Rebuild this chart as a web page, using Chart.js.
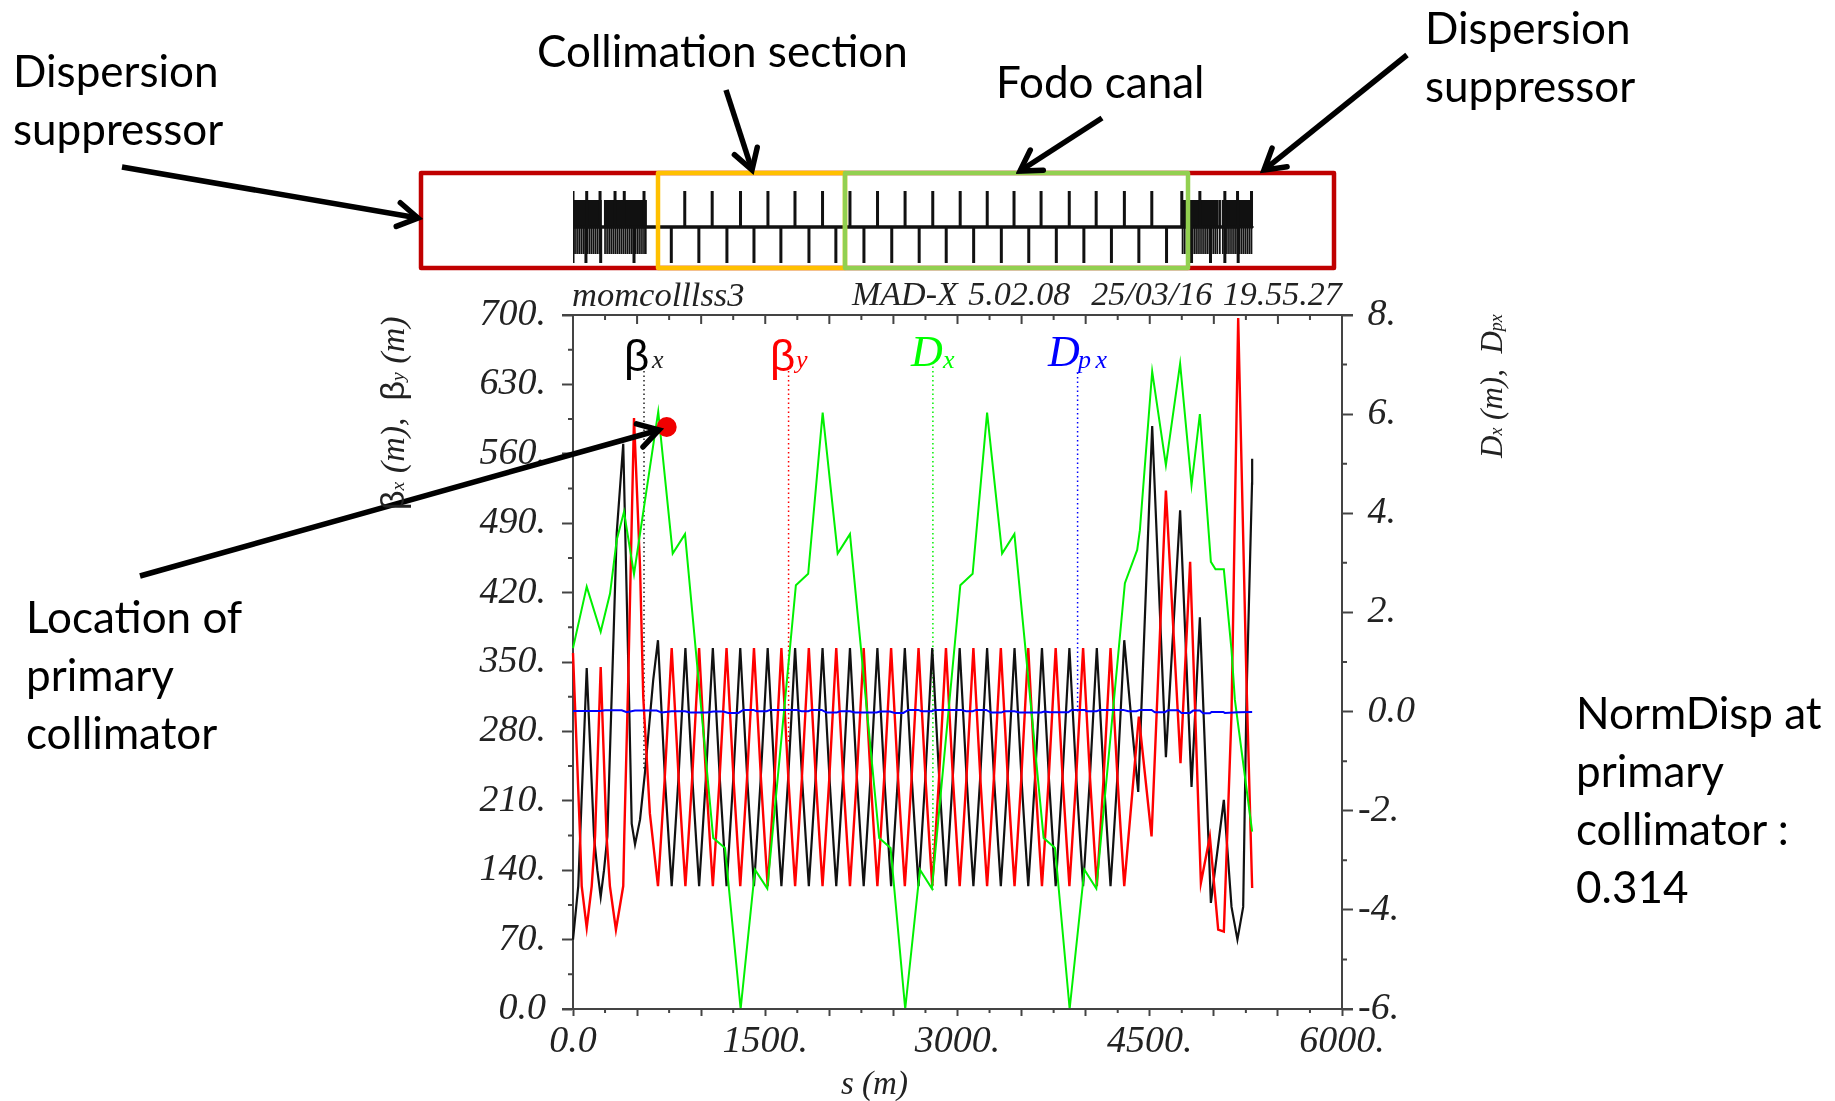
<!DOCTYPE html>
<html>
<head>
<meta charset="utf-8">
<title>momcolllss3 optics</title>
<script src="https://cdn.jsdelivr.net/npm/chart.js@4/dist/chart.umd.min.js"></script>
<style>
  html, body { margin: 0; padding: 0; background: #fff; }
  #page { position: relative; width: 1835px; height: 1101px; overflow: hidden; }
  canvas, svg { position: absolute; left: 0; top: 0; }
  .note { position: absolute; font-family: Lato, sans-serif; font-size: 44px; line-height: 58px; color: #000; white-space: nowrap; }
  .mad { position: absolute; font-family: "Liberation Serif", serif; font-style: italic; color: #222; white-space: nowrap; line-height: 1; }
  .greek { font-family: "Liberation Sans", sans-serif; font-style: normal; }
  .small { font-size: 58%; }
  .rot { transform: rotate(-90deg); transform-origin: left top; }
</style>
</head>
<body>
<div id="page">
  <canvas id="lattice" width="1835" height="1101"></canvas>
  <canvas id="optics" width="1835" height="1101"></canvas>

  <!-- section boxes and arrows of the slide -->
  <svg width="1835" height="1101">
    <defs>
      <marker id="head" markerUnits="userSpaceOnUse" markerWidth="30" markerHeight="34" refX="25" refY="17" orient="auto">
        <path d="M5 5 L25 17 L5 29" fill="none" stroke="#000" stroke-width="5.5" stroke-linecap="round"/>
      </marker>
    </defs>
    <rect x="421" y="173" width="913" height="95" fill="none" stroke="#c00000" stroke-width="4.5" stroke-linejoin="round"/>
    <rect x="658" y="173" width="187" height="95" fill="none" stroke="#ffc000" stroke-width="4.5" stroke-linejoin="round"/>
    <rect x="845" y="173" width="343" height="95" fill="none" stroke="#92d050" stroke-width="4.5" stroke-linejoin="round"/>
    <g stroke="#000" stroke-width="5.5" fill="none">
      <line x1="122" y1="167" x2="418" y2="218" marker-end="url(#head)"/>
      <line x1="726" y1="90" x2="752" y2="170" marker-end="url(#head)"/>
      <line x1="1102" y1="118" x2="1020" y2="171" marker-end="url(#head)"/>
      <line x1="1407" y1="55" x2="1264" y2="170" marker-end="url(#head)"/>
      <line x1="140" y1="576" x2="659" y2="430" marker-end="url(#head)"/>
    </g>
  </svg>

  <div class="note" style="left:13px;top:41px">Dispersion<br>suppressor</div>
  <div class="note" style="left:537px;top:21px">Collimation section</div>
  <div class="note" style="left:996px;top:52px">Fodo canal</div>
  <div class="note" style="left:1425px;top:-2px">Dispersion<br>suppressor</div>
  <div class="note" style="left:26px;top:587px">Location of<br>primary<br>collimator</div>
  <div class="note" style="left:1576px;top:683px">NormDisp at<br>primary<br>collimator :<br>0.314</div>

  <div class="mad" style="left:572px;top:277px;font-size:34.5px">momcolllss3</div>
  <div class="mad" style="left:852px;top:277px;font-size:34px;word-spacing:2px">MAD-X 5.02.08&nbsp; 25/03/16 19.55.27</div>

  <div class="mad" style="left:624px;top:334px;font-size:44px;color:#000"><span class="greek">β</span></div>
  <div class="mad" style="left:652px;top:347px;font-size:26px;color:#222">x</div>
  <div class="mad" style="left:770px;top:334px;font-size:44px;color:#f00"><span class="greek">β</span></div>
  <div class="mad" style="left:796px;top:347px;font-size:26px;color:#f00">y</div>
  <div class="mad" style="left:911px;top:330px;font-size:44px;color:#0f0">D</div>
  <div class="mad" style="left:943px;top:347px;font-size:26px;color:#0f0">x</div>
  <div class="mad" style="left:1048px;top:330px;font-size:44px;color:#00f">D</div>
  <div class="mad" style="left:1078px;top:347px;font-size:26px;color:#00f;word-spacing:-2px">p x</div>

  <div class="mad rot" style="left:375px;top:510px;font-size:34px"><span class="greek">β</span><span class="small">x</span> (m), &nbsp;<span class="greek">β</span><span class="small">y</span> (m)</div>
  <div class="mad rot" style="left:1476px;top:458px;font-size:31px">D<span class="small">x</span> (m), &nbsp;D<span class="small">px</span></div>
  <div class="mad" style="left:841px;top:1067px;font-size:33px">s (m)</div>
</div>

<script>
// Axis tick labels and minor tick positions
const sTicks = [0, 500, 1000, 1500, 2000, 2500, 3000, 3500, 4000, 4500, 5000, 5500, 6000];
const sLabels = { 0: "0.0", 1500: "1500.", 3000: "3000.", 4500: "4500.", 6000: "6000." };
const sMinor = [250, 750, 1250, 1750, 2250, 2750, 3250, 3750, 4250, 4750, 5250, 5750];
const betaLabels = { 0: "0.0", 70: "70.", 140: "140.", 210: "210.", 280: "280.", 350: "350.", 420: "420.", 490: "490.", 560: "560.", 630: "630.", 700: "700." };
const betaMinor = [35, 105, 175, 245, 315, 385, 455, 525, 595, 665];
const dispLabels = { "-6": "-6.", "-4": "-4.", "-2": "-2.", 0: "\u00a00.0", 2: "\u00a02.", 4: "\u00a04.", 6: "\u00a06.", 8: "\u00a08." };
const dispMinor = [-5, -3, -1, 1, 3, 5, 7];

// Beta x
const betaXS = [0, 41, 107, 164, 190, 216, 242, 268, 341, 392, 437, 458, 484, 523, 561, 626,
  663, 718, 750, 770, 790, 822,
  877, 932, 964, 984, 1004, 1036,
  1091, 1146, 1178, 1198, 1218, 1250,
  1305, 1360, 1392, 1412, 1432, 1464,
  1519, 1574, 1606, 1626, 1646, 1678,
  1733, 1788, 1820, 1840, 1860, 1892,
  1947, 2002, 2034, 2054, 2074, 2106,
  2161, 2216, 2248, 2268, 2288, 2320,
  2375, 2430, 2462, 2482, 2502, 2534,
  2589, 2644, 2676, 2696, 2716, 2748,
  2803, 2858, 2890, 2910, 2930, 2962,
  3017, 3072, 3104, 3124, 3144, 3176,
  3231, 3286, 3318, 3338, 3358, 3390,
  3445, 3500, 3532, 3552, 3572, 3604,
  3659, 3714, 3746, 3766, 3786, 3818,
  3873, 3928, 3960, 3980, 4000, 4032,
  4087, 4142, 4174, 4194, 4214, 4246,
  4301, 4361, 4410, 4519, 4626, 4737, 4826, 4891, 4977, 5078, 5138, 5184, 5229, 5255, 5298, 5299];
const betaXV = [70, 124, 344, 174, 140, 113, 140, 174, 480, 570, 315, 187, 166, 191, 238, 332,
  372, 231, 164, 124, 164, 231,
  364, 231, 164, 124, 164, 231,
  364, 231, 164, 124, 164, 231,
  364, 231, 164, 124, 164, 231,
  364, 231, 164, 124, 164, 231,
  364, 231, 164, 124, 164, 231,
  364, 231, 164, 124, 164, 231,
  364, 231, 164, 124, 164, 231,
  364, 231, 164, 124, 164, 231,
  364, 231, 164, 124, 164, 231,
  364, 231, 164, 124, 164, 231,
  364, 231, 164, 124, 164, 231,
  364, 231, 164, 124, 164, 231,
  364, 231, 164, 124, 164, 231,
  364, 231, 164, 124, 164, 231,
  364, 231, 164, 124, 164, 231,
  364, 231, 164, 124, 164, 231,
  372, 285, 219, 588, 254, 503, 224, 395, 107, 211, 103, 70, 103, 315, 530, 555];

// Beta y, the red curve
const betaYS = [0, 55, 68, 107, 146, 172, 216, 262, 288, 335, 392, 400, 431, 476, 523, 548, 600,
  663, 683, 715,
  770, 825, 857, 877, 897, 929,
  984, 1039, 1071, 1091, 1111, 1143,
  1198, 1253, 1285, 1305, 1325, 1357,
  1412, 1467, 1499, 1519, 1539, 1571,
  1626, 1681, 1713, 1733, 1753, 1785,
  1840, 1895, 1927, 1947, 1967, 1999,
  2054, 2109, 2141, 2161, 2181, 2213,
  2268, 2323, 2355, 2375, 2395, 2427,
  2482, 2537, 2569, 2589, 2609, 2641,
  2696, 2751, 2783, 2803, 2823, 2855,
  2910, 2965, 2997, 3017, 3037, 3069,
  3124, 3179, 3211, 3231, 3251, 3283,
  3338, 3393, 3425, 3445, 3465, 3497,
  3552, 3607, 3639, 3659, 3679, 3711,
  3766, 3821, 3853, 3873, 3893, 3925,
  3980, 4035, 4067, 4087, 4107, 4139,
  4194, 4249, 4281,
  4301, 4415, 4514, 4626, 4740, 4815, 4899, 4969, 5034, 5078, 5138, 5190, 5255, 5299];
const betaYV = [359, 174, 124, 82, 124, 174, 345, 174, 124, 80, 124, 174, 332, 596, 446, 315, 197,
  124, 164, 231,
  364, 231, 164, 124, 164, 231,
  364, 231, 164, 124, 164, 231,
  364, 231, 164, 124, 164, 231,
  364, 231, 164, 124, 164, 231,
  364, 231, 164, 124, 164, 231,
  364, 231, 164, 124, 164, 231,
  364, 231, 164, 124, 164, 231,
  364, 231, 164, 124, 164, 231,
  364, 231, 164, 124, 164, 231,
  364, 231, 164, 124, 164, 231,
  364, 231, 164, 124, 164, 231,
  364, 231, 164, 124, 164, 231,
  364, 231, 164, 124, 164, 231,
  364, 231, 164, 124, 164, 231,
  364, 231, 164, 124, 164, 231,
  364, 231, 164, 124, 164, 231,
  364, 231, 164,
  124, 295, 174, 523, 248, 451, 127, 174, 80, 78, 298, 697, 329, 122];

// Horizontal dispersion Dx, green, right axis
const dispS = [0, 107, 216, 289, 341, 398, 476, 665, 778, 874, 1094, 1186, 1308, 1420, 1516,
  1739, 1835, 1948, 2065, 2161, 2389, 2478, 2592, 2707, 2800,
  3022, 3118, 3231, 3348, 3444, 3672, 3761, 3875, 3990, 4083,
  4306, 4402, 4423, 4519, 4626, 4737, 4826, 4891, 4977, 5013, 5078, 5138, 5164, 5299];
const dispV = [1.28, 2.52, 1.61, 2.38, 3.46, 4.03, 2.77, 6.05, 3.19, 3.58, -2.55, -2.75, -6, -3.19, -3.57,
  2.55, 2.78, 6.03, 3.19, 3.58, -2.55, -2.75, -6, -3.19, -3.57,
  2.55, 2.78, 6.03, 3.19, 3.58, -2.55, -2.75, -6, -3.19, -3.57,
  2.59, 3.26, 3.66, 6.86, 4.97, 7.02, 4.57, 6.0, 3.02, 2.87, 2.87, 1.24, 0.24, -2.42];

// Dpx, blue, stays close to zero
const dispPS = [0, 159, 211, 250, 380, 419, 484, 653, 692, 770, 874, 913, 1043, 1095, 1173, 1212, 1290, 1329, 1407, 1433, 1511, 1537,
  1745, 1784, 1836, 1862, 1940, 1979, 2057, 2083, 2161, 2200, 2369, 2395, 2473, 2512, 2577, 2616, 2694, 2720, 2798, 2824,
  3028, 3067, 3119, 3145, 3223, 3262, 3340, 3366, 3444, 3483, 3652, 3678, 3721, 3864, 3890, 3994, 4007, 4085, 4111,
  4293, 4332, 4397, 4423, 4514, 4540, 4618, 4644, 4722, 4748, 4813, 4839, 4891, 4917, 4969, 4982, 5073, 5086, 5190, 5299];
const dispPV = [0.013, 0.013, 0.013, 0.027, 0.027, -0.013, 0.02, 0.02, -0.02, 0.007, 0.007, -0.02, -0.02, 0, 0, -0.027, -0.027, 0.034, 0.034, 0.007, 0.007, 0.034,
  0.034, 0.007, 0.007, 0.034, 0.034, -0.02, -0.02, 0.007, 0.007, -0.02, -0.02, 0, 0, -0.027, -0.027, 0.034, 0.034, 0.007, 0.007, 0.034,
  0.034, 0.007, 0.007, 0.034, 0.034, -0.02, -0.02, 0.007, 0.007, -0.02, -0.02, 0, -0.013, -0.013, 0.034, 0.034, 0.007, 0.007, 0.034,
  0.034, 0.007, 0.007, 0.034, 0.034, -0.013, -0.013, 0.027, 0.027, -0.027, -0.027, 0.02, 0.02, -0.034, -0.034, -0.007, -0.007, -0.027, -0.013, -0.007];

// Dotted leader lines under the curve labels (left axis values)
const leaderXS = [554, 554];
const leaderXV = [648, 241];
const leaderYS = [1682, 1682];
const leaderYV = [648, 268];
const leaderDS = [2808, 2808];
const leaderDV = [648, 120];
const leaderPS = [3937, 3937];
const leaderPV = [642, 300];

// Primary collimator marker
const collimatorS = [731];
const collimatorV = [587];

// Machine layout strip: element positions, same s scale as the plot
const focusS = [0, 107, 211, 328, 400, 554, 872, 1086, 1307, 1521, 1732, 1947, 2161, 2376, 2591, 2807, 3021, 3232, 3441, 3652, 3872, 4082, 4302, 4516, 4750, 4891, 5086, 5185, 5294];
const defocusS = [0, 101, 216, 476, 767, 982, 1201, 1412, 1622, 1841, 2051, 2270, 2487, 2701, 2912, 3126, 3342, 3556, 3771, 3986, 4201, 4415, 4631, 4826, 4974, 5086, 5190];
const bendS = [0, 16, 32, 48, 64, 80, 96, 112, 128, 144, 160, 176, 192, 208, 216,
  250, 266, 282, 298, 314, 330, 346, 362, 378, 394, 410, 426, 442, 458, 474, 490, 506, 522, 538, 554, 568,
  4756, 4772, 4788, 4804, 4820, 4836, 4852, 4868, 4884, 4900, 4916, 4932, 4948, 4964, 4980, 4996, 5012, 5028, 5047,
  5070, 5086, 5102, 5118, 5134, 5150, 5166, 5182, 5198, 5214, 5230, 5246, 5262, 5278, 5294];
const beamLineS = [0, 5313];
const tallHeight = 36;
const bendHeight = 27;

const axisColor = "#444";
const tickFont = { family: "'Liberation Serif', serif", style: "italic", size: 38 };

function points(xs, ys) {
  return xs.map((x, i) => ({ x: x, y: ys[i] }));
}

function curve(xs, ys, color, yAxisID, width) {
  return {
    data: points(xs, ys),
    yAxisID: yAxisID,
    borderColor: color,
    borderWidth: width,
    pointRadius: 0,
    tension: 0,
    clip: false
  };
}

function leader(xs, ys, color) {
  return {
    data: points(xs, ys),
    yAxisID: "y",
    borderColor: color,
    borderWidth: 1.5,
    borderDash: [1.5, 3],
    pointRadius: 0
  };
}

// Chart.js has one tick length per axis, so short ticks and the frame get drawn here
const frameTicks = {
  id: "frameTicks",
  afterDraw(chart) {
    const { ctx, scales, chartArea } = chart;
    const { left, right, top, bottom } = chartArea;
    ctx.save();
    ctx.strokeStyle = axisColor;
    ctx.lineWidth = 2;
    ctx.beginPath();
    ctx.moveTo(left - 11, top);
    ctx.lineTo(right + 11, top);
    ctx.moveTo(left - 11, bottom);
    ctx.lineTo(right + 11, bottom);
    betaMinor.forEach((v) => {
      const y = scales.y.getPixelForValue(v);
      ctx.moveTo(left - 5, y);
      ctx.lineTo(left, y);
    });
    dispMinor.forEach((v) => {
      const y = scales.y1.getPixelForValue(v);
      ctx.moveTo(right, y);
      ctx.lineTo(right + 5, y);
    });
    sMinor.forEach((v) => {
      const x = scales.x.getPixelForValue(v);
      ctx.moveTo(x, bottom);
      ctx.lineTo(x, bottom + 4);
      ctx.moveTo(x, top);
      ctx.lineTo(x, top + 5);
    });
    sTicks.forEach((v) => {
      const x = scales.x.getPixelForValue(v);
      ctx.moveTo(x, top);
      ctx.lineTo(x, top + 9);
    });
    ctx.stroke();
    ctx.restore();
  }
};

// 1. Optics plot
new Chart(document.getElementById("optics"), {
  type: "line",
  plugins: [frameTicks],
  data: {
    datasets: [
      {
        data: points(collimatorS, collimatorV),
        yAxisID: "y",
        showLine: false,
        pointRadius: 10,
        pointHoverRadius: 10,
        pointBackgroundColor: "#f00000",
        pointBorderWidth: 0
      },
      curve(dispPS, dispPV, "#0000ff", "y1", 2),
      curve(dispS, dispV, "#00f000", "y1", 2),
      curve(betaYS, betaYV, "#ff0000", "y", 2.4),
      curve(betaXS, betaXV, "#111111", "y", 2.2),
      leader(leaderXS, leaderXV, "#222222"),
      leader(leaderYS, leaderYV, "#ff0000"),
      leader(leaderDS, leaderDV, "#00f000"),
      leader(leaderPS, leaderPV, "#0000ff")
    ]
  },
  options: {
    responsive: false,
    animation: false,
    layout: { padding: { top: 315 } },
    plugins: { legend: { display: false }, tooltip: { enabled: false } },
    scales: {
      x: {
        type: "linear",
        min: 0,
        max: 6000,
        afterFit: (s) => { s.height = 92; },
        afterBuildTicks: (s) => { s.ticks = sTicks.map((v) => ({ value: v })); },
        grid: { drawOnChartArea: false, tickLength: 7, tickColor: axisColor, tickWidth: 2 },
        border: { color: axisColor, width: 2 },
        ticks: {
          autoSkip: false,
          maxRotation: 0,
          padding: 3,
          color: "#222",
          font: tickFont,
          callback: (v) => sLabels[v] || ""
        }
      },
      y: {
        position: "left",
        min: 0,
        max: 700,
        afterFit: (s) => { s.width = 573; },
        grid: { drawOnChartArea: false, tickLength: 11, tickColor: axisColor, tickWidth: 2 },
        border: { color: axisColor, width: 2 },
        ticks: { stepSize: 70, padding: 16, color: "#222", font: tickFont, callback: (v) => betaLabels[v] }
      },
      y1: {
        position: "right",
        min: -6,
        max: 8,
        afterFit: (s) => { s.width = 493; },
        grid: { drawOnChartArea: false, tickLength: 11, tickColor: axisColor, tickWidth: 2 },
        border: { color: axisColor, width: 2 },
        ticks: { stepSize: 2, padding: 5, color: "#222", font: tickFont, callback: (v) => dispLabels[v] }
      }
    }
  }
});

// 2. Layout strip above the plot
function spikes(xs, height) {
  return xs.flatMap((x) => [{ x: x, y: 0 }, { x: x, y: height }, { x: x, y: 0 }]);
}

function strip(data, color, width) {
  return { data: data, borderColor: color, borderWidth: width, pointRadius: 0, tension: 0 };
}

new Chart(document.getElementById("lattice"), {
  type: "line",
  data: {
    datasets: [
      strip(spikes(focusS, tallHeight), "#111", 3),
      strip(spikes(defocusS, -tallHeight), "#111", 3),
      strip(spikes(bendS, bendHeight), "#111", 2.2),
      strip(spikes(bendS, -bendHeight), "#111", 1.7),
      strip(beamLineS.map((x) => ({ x: x, y: 0 })), "#555", 1.5)
    ]
  },
  options: {
    responsive: false,
    animation: false,
    layout: { padding: { left: 573, right: 493, top: 191, bottom: 838 } },
    plugins: { legend: { display: false }, tooltip: { enabled: false } },
    scales: {
      x: { type: "linear", min: 0, max: 6000, display: false },
      y: { min: -tallHeight, max: tallHeight, display: false }
    }
  }
});
</script>
</body>
</html>
